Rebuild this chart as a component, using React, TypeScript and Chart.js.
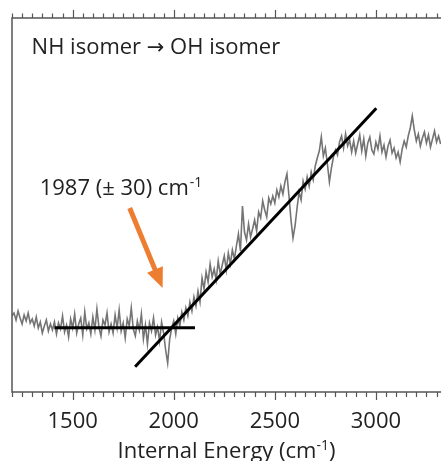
import React, { useEffect, useRef } from "react";
import { Chart, registerables } from "chart.js";

Chart.register(...registerables);

// ---- data ----
const energyStart = 1200; // cm-1, first sample
const energyStep = 10; // cm-1 between samples
const signal: number[] = [
  7.6, 7.9, 7.2, 8.1, 7.4, 6.8, 7.7, 7.1, 7.9, 6.9,
  7.3, 6.6, 7.5, 6.4, 7.0, 5.9, 6.6, 7.2, 6.1, 6.8,
  6.2, 7.0, 5.8, 6.9, 6.3, 7.6, 6.0, 6.7, 5.5, 7.3,
  6.4, 7.8, 5.9, 6.8, 7.4, 5.7, 8.0, 6.3, 6.9, 5.8,
  7.5, 6.2, 8.3, 6.5, 5.6, 7.2, 6.7, 7.9, 6.0, 6.8,
  5.9, 7.7, 6.4, 8.2, 6.1, 6.9, 5.4, 7.3, 6.6, 8.4,
  6.3, 5.6, 7.1, 6.2, 7.8, 5.3, 6.7, 4.8, 6.9, 6.1,
  7.4, 5.7, 6.5, 5.1, 7.0, 5.9, 4.2, 2.9, 5.3, 6.4,
  7.1, 5.8, 7.4, 6.6, 8.0, 7.2, 8.4, 7.6, 9.0, 8.1,
  9.5, 8.6, 10.1, 9.0, 11.4, 10.3, 12.0, 11.0, 12.8, 11.5,
  12.3, 11.2, 13.1, 11.8, 12.7, 13.6, 12.2, 13.9, 12.8, 14.2,
  13.3, 14.6, 15.8, 14.1, 18.6, 16.0, 15.2, 16.8, 15.5, 16.3,
  17.2, 16.1, 18.0, 17.4, 19.1, 18.2, 17.5, 19.4, 18.8, 19.6,
  18.9, 20.2, 19.5, 20.6, 19.8, 21.0, 21.8, 19.6, 17.2, 15.4,
  16.6, 18.4, 20.0, 19.2, 21.1, 20.3, 21.5, 20.6, 22.0, 21.2,
  22.6, 23.4, 24.1, 25.5, 23.6, 24.4, 22.8, 21.0, 22.4, 23.5,
  24.2, 23.7, 25.0, 25.6, 24.4, 25.8, 24.6, 25.2, 24.0, 25.1,
  23.9, 24.8, 25.7, 24.1, 25.3, 23.6, 24.9, 25.5, 24.2, 23.8,
  25.0, 24.3, 25.6, 24.0, 24.7, 23.5, 24.6, 25.2, 23.9, 24.4,
  23.4, 24.0, 23.0, 24.3, 25.1, 24.5, 25.6, 26.4, 27.6, 26.2,
  25.1, 25.8, 24.6, 25.4, 26.0, 24.9, 25.7, 24.5, 25.3, 26.1,
  25.0, 25.6, 24.8,
];

const baselineFit = [
  { x: 1410, y: 6.43 },
  { x: 2105, y: 6.43 },
];
const riseFit = [
  { x: 1809, y: 2.53 },
  { x: 3002, y: 28.37 },
];

const tickLabels = [1500, 2000, 2500, 3000];
const xMin = 1200;
const xMax = 3322;
const yMin = 0;
const yMax = 37.4;
const minorStep = 50;
const majorStep = 500;

const titleParts = ["NH isomer ", "\u2192", " OH isomer"];
const titlePos = { x: 1297, y: 33.8 };
const onsetText = "1987 (\u00B1 30) cm";
const onsetSup = "-1";
const onsetPos = { x: 1337, y: 19.7 };
const arrowTail = { x: 1782, y: 18.4 };
const arrowHead = { x: 1945, y: 10.4 };
const axisTitle = "Internal Energy (cm";
const axisTitleSup = "-1";
const axisTitleEnd = ")";

const FONT = '"Open Sans", "Liberation Sans", sans-serif';
const ORANGE = "#ED7D31";

const overlay = {
  id: "overlay",
  afterDraw(chart: any) {
    const { ctx, chartArea: a, scales } = chart;
    const xs = scales.x;
    const ys = scales.y;
    ctx.save();

    // frame
    ctx.strokeStyle = "#555555";
    ctx.lineWidth = 1.5;
    ctx.beginPath();
    ctx.moveTo(a.right + 2, a.top);
    ctx.lineTo(a.left, a.top);
    ctx.lineTo(a.left, a.bottom);
    ctx.lineTo(a.right + 2, a.bottom);
    ctx.stroke();

    // ticks
    ctx.lineWidth = 1.2;
    ctx.strokeStyle = "#555555";
    for (let v = xMin; v <= xMax; v += minorStep) {
      const px = Math.round(xs.getPixelForValue(v)) + 0.5;
      const major = v % majorStep === 0;
      ctx.beginPath();
      ctx.moveTo(px, a.bottom);
      ctx.lineTo(px, a.bottom + (major ? 8 : 5));
      ctx.moveTo(px, a.top);
      ctx.lineTo(px, a.top - (major ? 8 : 4.5));
      ctx.stroke();
    }

    // tick labels
    ctx.fillStyle = "#222222";
    ctx.font = `22px ${FONT}`;
    ctx.textAlign = "center";
    ctx.textBaseline = "alphabetic";
    for (const t of tickLabels) {
      ctx.fillText(String(t), xs.getPixelForValue(t), a.bottom + 36);
    }

    // axis title with superscript
    const big = `22px ${FONT}`;
    const small = `14px ${FONT}`;
    ctx.font = big;
    const w1 = ctx.measureText(axisTitle).width;
    const w3 = ctx.measureText(axisTitleEnd).width;
    ctx.font = small;
    const w2 = ctx.measureText(axisTitleSup).width;
    const total = w1 + w2 + w3;
    let cx = (a.left + a.right) / 2 - total / 2;
    const base = a.bottom + 66;
    ctx.textAlign = "left";
    ctx.font = big;
    ctx.fillText(axisTitle, cx, base);
    cx += w1;
    ctx.font = small;
    ctx.fillText(axisTitleSup, cx, base - 8);
    cx += w2;
    ctx.font = big;
    ctx.fillText(axisTitleEnd, cx, base);

    // title annotation (arrow glyph from DejaVu Sans)
    ctx.fillStyle = "#222222";
    let tx0 = xs.getPixelForValue(titlePos.x);
    const ty0 = ys.getPixelForValue(titlePos.y);
    titleParts.forEach((part, i) => {
      ctx.font = i === 1 ? `21px "DejaVu Sans", sans-serif` : `22px ${FONT}`;
      ctx.fillText(part, tx0, ty0);
      tx0 += ctx.measureText(part).width;
    });

    // onset annotation
    ctx.font = `22px ${FONT}`;
    const ox = xs.getPixelForValue(onsetPos.x);
    const oy = ys.getPixelForValue(onsetPos.y);
    ctx.fillText(onsetText, ox, oy);
    const ow = ctx.measureText(onsetText).width;
    ctx.font = `14px ${FONT}`;
    ctx.fillText(onsetSup, ox + ow + 1, oy - 8);

    // arrow
    const tx = xs.getPixelForValue(arrowTail.x);
    const ty = ys.getPixelForValue(arrowTail.y);
    const hx = xs.getPixelForValue(arrowHead.x);
    const hy = ys.getPixelForValue(arrowHead.y);
    const ang = Math.atan2(hy - ty, hx - tx);
    const headLen = 20;
    const headHalf = 8.5;
    const bx = hx - headLen * Math.cos(ang);
    const by = hy - headLen * Math.sin(ang);
    ctx.strokeStyle = ORANGE;
    ctx.fillStyle = ORANGE;
    ctx.lineWidth = 5;
    ctx.lineCap = "butt";
    ctx.beginPath();
    ctx.moveTo(tx, ty);
    ctx.lineTo(bx + 2 * Math.cos(ang), by + 2 * Math.sin(ang));
    ctx.stroke();
    ctx.beginPath();
    ctx.moveTo(hx, hy);
    ctx.lineTo(bx - headHalf * Math.sin(ang), by + headHalf * Math.cos(ang));
    ctx.lineTo(bx + headHalf * Math.sin(ang), by - headHalf * Math.cos(ang));
    ctx.closePath();
    ctx.fill();

    ctx.restore();
  },
};

export default function App() {
  const canvasRef = useRef<HTMLCanvasElement | null>(null);

  useEffect(() => {
    if (!canvasRef.current) return;
    const points = signal.map((v, i) => ({ x: energyStart + i * energyStep, y: v }));
    const chart = new Chart(canvasRef.current, {
      type: "line",
      data: {
        datasets: [
          {
            data: points,
            borderColor: "#747474",
            borderWidth: 1.6,
            pointRadius: 0,
            tension: 0,
            order: 2,
          },
          {
            data: baselineFit,
            borderColor: "#000000",
            borderWidth: 3,
            pointRadius: 0,
            order: 1,
          },
          {
            data: riseFit,
            borderColor: "#000000",
            borderWidth: 3,
            pointRadius: 0,
            order: 1,
          },
        ],
      },
      options: {
        responsive: false,
        animation: false,
        layout: { padding: { left: 12, top: 18, right: 0, bottom: 69 } },
        plugins: { legend: { display: false }, tooltip: { enabled: false } },
        scales: {
          x: { type: "linear", min: xMin, max: xMax, display: false },
          y: { type: "linear", min: yMin, max: yMax, display: false },
        },
      },
      plugins: [overlay],
    });
    return () => chart.destroy();
  }, []);

  return (
    <div style={{ position: "fixed", left: 0, top: 0, width: 441, height: 461, background: "#fff" }}>
      <canvas ref={canvasRef} width={441} height={461} style={{ display: "block" }} />
    </div>
  );
}
